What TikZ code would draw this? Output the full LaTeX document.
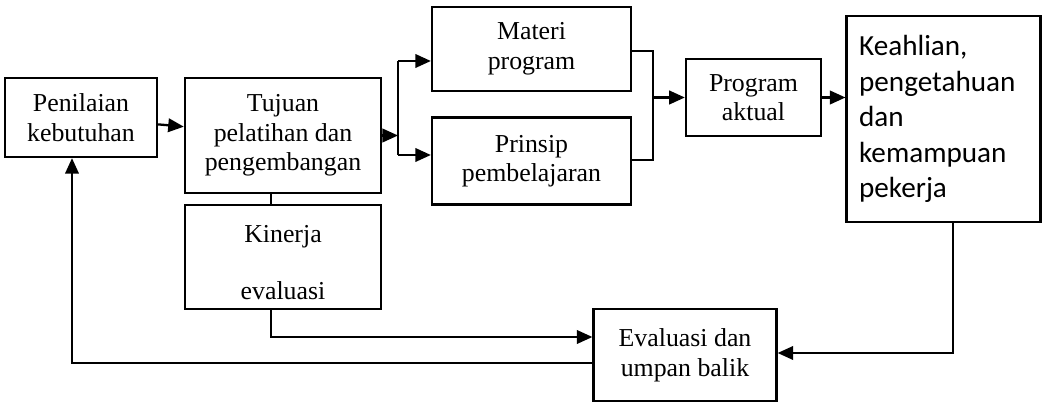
\documentclass[tikz,border=0pt]{standalone}
\usepackage{fontspec}
\setmainfont{Liberation Serif}
\newfontfamily\calibrifont{Carlito}
\usetikzlibrary{arrows.meta}

\tikzset{
  box/.style={draw, line width=1.1pt, align=center, inner sep=0pt,
    font=\fontsize{12.4}{14.2}\selectfont},
  arr/.style={line width=1.1pt, -{Triangle[length=7.5pt,width=6.5pt]}},
  con/.style={line width=1.1pt}
}

\begin{document}
\begin{tikzpicture}[x=0.48pt, y=-0.48pt]
    \useasboundingbox (0,0) rectangle (1060,404);
    % boxes
    \node[box, minimum width=73pt, minimum height=37.9pt] (pen) at (81,117.5) {Penilaian\\kebutuhan};
    \node[box, minimum width=94.1pt, minimum height=55.2pt] (tuj) at (283,135.5) {Tujuan\\pelatihan dan\\pengembangan};
    \node[box, minimum width=94.1pt, minimum height=49.9pt] (kin) at (283,257) {\rule{0pt}{13.6pt}Kinerja\\[13pt]evaluasi};
    \node[box, minimum width=95.5pt, minimum height=40.3pt] (mat) at (531.5,49) {Materi\\program};
    \node[box, minimum width=95.5pt, minimum height=41.8pt] (pri) at (531.5,161) {Prinsip\\pembelajaran};
    \node[box, minimum width=64.8pt, minimum height=37pt] (prog) at (753.5,97.5) {Program\\aktual};
    \node[box, align=left, text width=81pt, inner xsep=6pt, minimum height=98.9pt,
      font=\calibrifont\fontsize{14}{17}\selectfont] (keah) at (943.5,119)
      {Keahlian,\\pengetahuan\\dan\\kemampuan\\pekerja};
    \node[box, minimum width=87.8pt, minimum height=44.2pt] (eval) at (685,355) {Evaluasi dan\\umpan balik};

    % branch and join points
    \coordinate (split) at (398,135.5);
    \coordinate (splitT) at (398,61);
    \coordinate (splitB) at (398,155);
    \coordinate (joinT) at (653,51);
    \coordinate (joinB) at (653,160);

    \draw[arr] (pen) -- (tuj);
    \draw[arr] (tuj.east) -- (split);
    \draw[con] (splitT) -- (splitB);
    \draw[arr] (splitT) -- (splitT -| mat.west);
    \draw[arr] (splitB) -- (splitB -| pri.west);
    \draw[con] (joinT -| mat.east) -- (joinT) -- (joinB) -- (joinB -| pri.east);
    \draw[arr] (joinT |- prog.west) -- (prog.west);
    \draw[arr] (prog.east) -- (prog.east -| keah.west);

    % feedback
    \draw[con] (tuj.south -| 271,0) -- (kin.north -| 271,0);
    \draw[arr] (kin.south -| 271,0) |- (eval.west |- 0,337);
    \draw[arr] (keah.south -| 953,0) |- (eval.east |- 0,353);
    \draw[arr] (eval.west |- 0,363) -| (pen.south -| 72,0);
\end{tikzpicture}
\end{document}
